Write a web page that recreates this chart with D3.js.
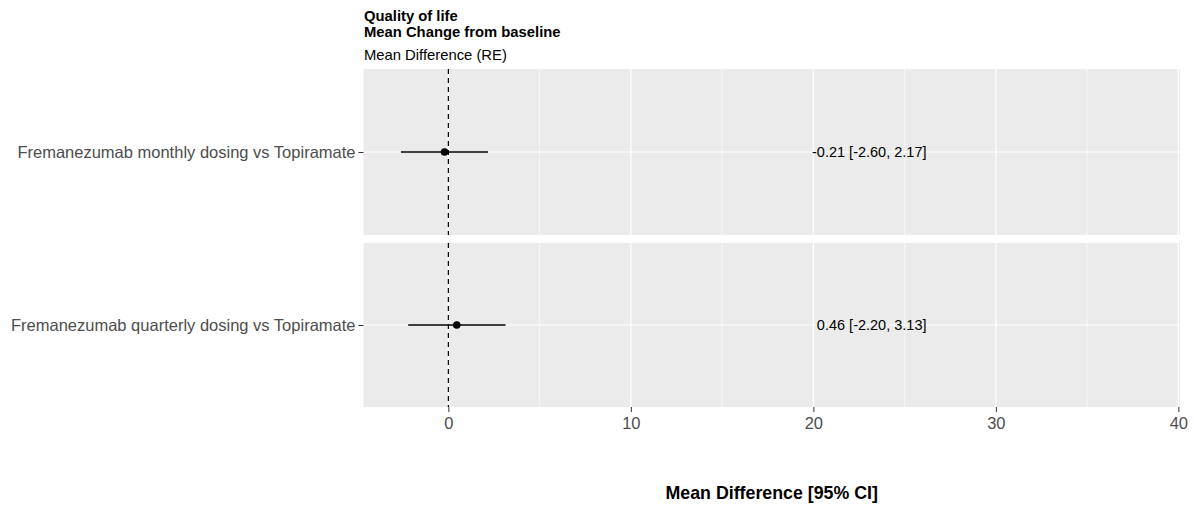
<!DOCTYPE html>
<html>
<head>
<meta charset="utf-8">
<script src="https://cdn.jsdelivr.net/npm/d3@7"></script>
<style>
  html, body { margin: 0; padding: 0; background: #ffffff; }
  svg { display: block; font-family: "Liberation Sans", Arial, sans-serif; }
</style>
</head>
<body>
<svg id="chart" width="1194" height="505"></svg>
<script>
// Forest plot: mean change in quality of life, one facet per comparison
const comparisons = [
  "Fremanezumab monthly dosing vs Topiramate",
  "Fremanezumab quarterly dosing vs Topiramate"
];
const estimates = [-0.21, 0.46];
const lowerCI = [-2.60, -2.20];
const upperCI = [2.17, 3.13];
const xTicks = [0, 10, 20, 30, 40];
const xMinorTicks = [5, 15, 25, 35];
const titleLines = ["Quality of life", "Mean Change from baseline"];
const subtitle = "Mean Difference (RE)";
const xTitle = "Mean Difference [95% CI]";
const labelPosition = 26.2; // x value where the estimate text ends

const rows = comparisons.map((c, i) => ({
  name: c, est: estimates[i], lo: lowerCI[i], hi: upperCI[i],
  text: `${estimates[i].toFixed(2)} [${lowerCI[i].toFixed(2)}, ${upperCI[i].toFixed(2)}]`
}));

const svg = d3.select("#chart");
const panelLeft = 363.5, panelRight = 1180;
const panels = [{ top: 69, bottom: 235 }, { top: 243, bottom: 407 }];

const x = d3.scaleLinear().domain([-4.65, 40.09]).range([panelLeft, panelRight]);

// Titles
svg.append("g").selectAll("text").data(titleLines).join("text")
  .attr("x", panelLeft + 0.5).attr("y", (d, i) => 20.5 + i * 16.8)
  .attr("font-size", 14.8).attr("font-weight", "bold").attr("fill", "#000")
  .text(d => d);
svg.append("text").attr("x", panelLeft + 0.5).attr("y", 59.5)
  .attr("font-size", 14.8).attr("fill", "#000").text(subtitle);

rows.forEach((r, i) => {
  const p = panels[i];
  const y = d3.scalePoint().domain([r.name]).range([p.top, p.bottom]).padding(0.5);
  const g = svg.append("g");

  g.append("rect").attr("x", panelLeft).attr("y", p.top)
    .attr("width", panelRight - panelLeft).attr("height", p.bottom - p.top)
    .attr("fill", "#EBEBEB");

  // minor grid
  g.selectAll(".minor").data(xMinorTicks).join("line")
    .attr("x1", d => x(d)).attr("x2", d => x(d))
    .attr("y1", p.top).attr("y2", p.bottom)
    .attr("stroke", "#fff").attr("stroke-width", 0.6);
  // major grid
  g.selectAll(".major").data(xTicks).join("line")
    .attr("x1", d => x(d)).attr("x2", d => x(d))
    .attr("y1", p.top).attr("y2", p.bottom)
    .attr("stroke", "#fff").attr("stroke-width", 1.2);
  g.append("line").attr("x1", panelLeft).attr("x2", panelRight)
    .attr("y1", y(r.name)).attr("y2", y(r.name))
    .attr("stroke", "#fff").attr("stroke-width", 1.2);

  // reference line at no difference
  g.append("line").attr("x1", x(0)).attr("x2", x(0))
    .attr("y1", p.top).attr("y2", p.bottom)
    .attr("stroke", "#000").attr("stroke-width", 1.2)
    .attr("stroke-dasharray", "5,4");

  // confidence interval and estimate
  g.append("line").attr("x1", x(r.lo)).attr("x2", x(r.hi))
    .attr("y1", y(r.name)).attr("y2", y(r.name))
    .attr("stroke", "#000").attr("stroke-width", 1.5);
  g.append("circle").attr("cx", x(r.est)).attr("cy", y(r.name))
    .attr("r", 3.8).attr("fill", "#000");

  g.append("text").attr("x", x(labelPosition)).attr("y", y(r.name))
    .attr("dy", "0.35em").attr("text-anchor", "end")
    .attr("font-size", 14.5).attr("fill", "#000").text(r.text);

  // y axis
  const ya = g.append("g").attr("transform", `translate(${panelLeft},0)`)
    .call(d3.axisLeft(y).tickSize(5).tickPadding(3));
  ya.select(".domain").remove();
  ya.selectAll("line").attr("stroke", "#333").attr("stroke-width", 1);
  ya.selectAll("text").attr("font-size", 16.5).attr("fill", "#4D4D4D")
    .attr("font-family", "Liberation Sans, Arial, sans-serif");
});

// x axis
const xa = svg.append("g").attr("transform", `translate(0,${panels[1].bottom})`)
  .call(d3.axisBottom(x).tickValues(xTicks).tickSize(5).tickPadding(5));
xa.select(".domain").remove();
xa.selectAll("line").attr("stroke", "#333").attr("stroke-width", 1);
xa.selectAll("text").attr("font-size", 16.5).attr("fill", "#4D4D4D")
  .attr("font-family", "Liberation Sans, Arial, sans-serif");

svg.append("text").attr("x", (panelLeft + panelRight) / 2).attr("y", 498.5)
  .attr("text-anchor", "middle").attr("font-size", 17.8).attr("font-weight", "bold")
  .attr("fill", "#000").text(xTitle);
</script>
</body>
</html>
